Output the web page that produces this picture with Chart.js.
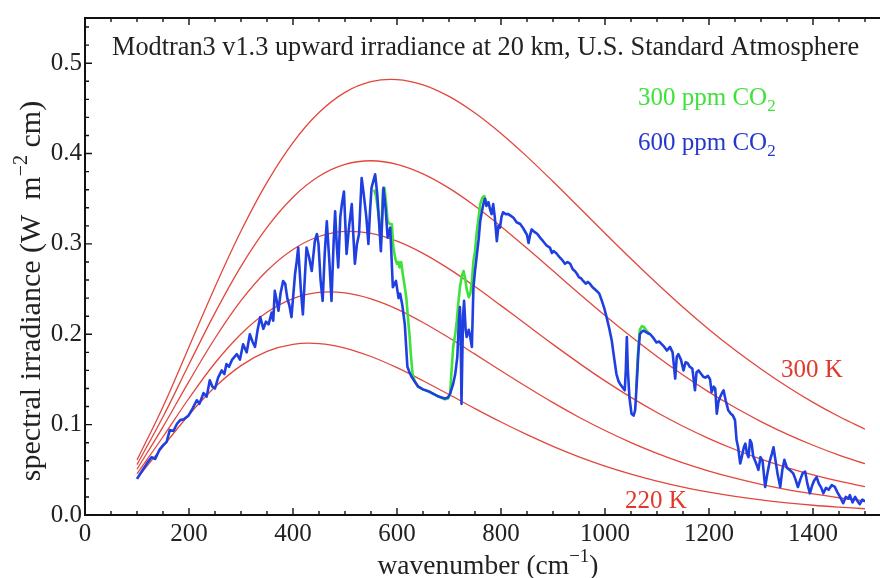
<!DOCTYPE html>
<html>
<head>
<meta charset="utf-8">
<script src="https://cdn.jsdelivr.net/npm/chart.js@4.4.1/dist/chart.umd.min.js"></script>
<style>
  html, body { margin: 0; padding: 0; background: #fff; }
  canvas { display: block; }
</style>
</head>
<body>
<canvas id="irr" width="880" height="578"></canvas>
<script>
// blackbody reference curves, W m^-2 cm
const planckWn = [100, 150, 200, 250, 300, 350, 400, 450, 500, 550, 600, 650, 700, 750, 800,
  850, 900, 950, 1000, 1050, 1100, 1150, 1200, 1250, 1300, 1350, 1400, 1450, 1500];
const bb300 = [0.0608, 0.1199, 0.1860, 0.2523, 0.3142, 0.3681, 0.4122, 0.4454, 0.4677, 0.4795, 0.4819, 0.4760, 0.4632, 0.4448, 0.4222,
  0.3966, 0.3690, 0.3405, 0.3118, 0.2835, 0.2561, 0.2299, 0.2054, 0.1825, 0.1615, 0.1422, 0.1247, 0.1090, 0.0950];
const bb280 = [0.0557, 0.1087, 0.1668, 0.2237, 0.2752, 0.3183, 0.3517, 0.3748, 0.3880, 0.3920, 0.3881, 0.3775, 0.3617, 0.3419, 0.3193,
  0.2951, 0.2702, 0.2452, 0.2208, 0.1975, 0.1754, 0.1549, 0.1360, 0.1189, 0.1034, 0.0895, 0.0772, 0.0663, 0.0568];
const bb260 = [0.0506, 0.0976, 0.1479, 0.1956, 0.2372, 0.2703, 0.2939, 0.3082, 0.3138, 0.3116, 0.3031, 0.2896, 0.2724, 0.2528, 0.2317,
  0.2102, 0.1888, 0.1681, 0.1484, 0.1302, 0.1134, 0.0982, 0.0846, 0.0725, 0.0618, 0.0525, 0.0444, 0.0374, 0.0314];
const bb240 = [0.0456, 0.0866, 0.1292, 0.1682, 0.2004, 0.2243, 0.2395, 0.2463, 0.2457, 0.2391, 0.2278, 0.2130, 0.1961, 0.1780, 0.1596,
  0.1416, 0.1243, 0.1082, 0.0935, 0.0801, 0.0682, 0.0577, 0.0486, 0.0407, 0.0339, 0.0281, 0.0233, 0.0191, 0.0157];
const bb220 = [0.0405, 0.0758, 0.1109, 0.1416, 0.1653, 0.1810, 0.1889, 0.1897, 0.1848, 0.1754, 0.1630, 0.1486, 0.1333, 0.1178, 0.1029,
  0.0889, 0.0760, 0.0644, 0.0541, 0.0452, 0.0374, 0.0308, 0.0253, 0.0206, 0.0167, 0.0135, 0.0108, 0.0087, 0.0069];

// 600 ppm CO2 spectrum
const wn600 = [100, 110, 120, 128, 135, 143, 150, 157, 163, 170, 177, 183, 190, 199, 207, 215, 220, 228, 234, 240,
  245, 250, 256, 263, 268, 272, 277, 283, 292, 298, 304, 311, 317, 322, 327, 332, 337, 343, 348, 353,
  359, 362, 365, 369, 372, 376, 381, 385, 389, 393, 397, 404, 407, 410, 415, 419, 423, 426, 431, 436,
  442, 446, 449, 453, 457, 461, 465, 470, 474, 478, 481, 484, 487, 491, 494, 498, 503, 508, 513, 516,
  519, 523, 527, 532, 536, 541, 545, 548, 551, 558, 562, 566, 569, 574, 578, 582, 587, 592, 598, 603,
  606, 610, 615, 620, 624, 628, 635, 641, 650, 660, 670, 680, 692, 698, 702, 708, 712, 716, 719, 721,
  722.5, 724, 727, 729, 732, 734, 738, 740, 744, 747, 750, 753, 757, 760, 763, 766, 769, 772, 776, 779,
  782, 785, 788, 792, 795, 798, 801, 804, 809, 814, 819, 824, 830, 837, 842, 846, 850, 853, 856, 859,
  865, 870, 875, 881, 888, 894, 898, 901, 906, 913, 918, 923, 928, 933, 938, 942, 946, 950, 954, 958,
  963, 967, 971, 976, 980, 984, 989, 994, 999, 1003, 1008, 1013, 1018, 1022, 1026, 1029, 1034, 1038, 1040, 1042,
  1044, 1047, 1051, 1055, 1058, 1061, 1064, 1067, 1071, 1074, 1080, 1087, 1093, 1099, 1104, 1109, 1114, 1119, 1125, 1130,
  1135, 1138, 1141, 1146, 1151, 1155, 1159, 1163, 1168, 1173, 1176, 1180, 1185, 1189, 1193, 1198, 1202, 1205, 1209, 1212,
  1215, 1218, 1221, 1225, 1228, 1232, 1237, 1242, 1246, 1250, 1253, 1256, 1260, 1263, 1267, 1270, 1273, 1276, 1279, 1282,
  1285, 1288, 1292, 1295, 1299, 1303, 1308, 1312, 1317, 1321, 1324, 1328, 1332, 1337, 1341, 1345, 1350, 1355, 1362, 1366,
  1371, 1376, 1380, 1385, 1389, 1394, 1398, 1402, 1407, 1411, 1416, 1420, 1425, 1430, 1436, 1442, 1447, 1452, 1458, 1463,
  1468, 1471, 1476, 1481, 1486, 1490, 1495, 1500];
const irr600 = [0.040, 0.049, 0.058, 0.064, 0.062, 0.072, 0.077, 0.081, 0.094, 0.093, 0.101, 0.105, 0.106, 0.110, 0.118, 0.127, 0.123, 0.135, 0.131, 0.149,
  0.142, 0.140, 0.152, 0.160, 0.156, 0.167, 0.164, 0.172, 0.178, 0.172, 0.189, 0.180, 0.200, 0.192, 0.186, 0.205, 0.219, 0.206, 0.214, 0.211,
  0.224, 0.215, 0.248, 0.236, 0.226, 0.245, 0.259, 0.256, 0.240, 0.232, 0.219, 0.267, 0.280, 0.296, 0.250, 0.222, 0.265, 0.296, 0.285, 0.270,
  0.303, 0.311, 0.300, 0.260, 0.237, 0.289, 0.325, 0.280, 0.237, 0.300, 0.336, 0.300, 0.274, 0.330, 0.344, 0.358, 0.289, 0.320, 0.344, 0.310,
  0.278, 0.300, 0.311, 0.373, 0.355, 0.330, 0.300, 0.335, 0.362, 0.377, 0.355, 0.320, 0.292, 0.362, 0.340, 0.307, 0.318, 0.252, 0.259, 0.240,
  0.245, 0.233, 0.211, 0.164, 0.158, 0.153, 0.147, 0.142, 0.139, 0.137, 0.134, 0.131, 0.129, 0.130, 0.134, 0.145, 0.156, 0.175, 0.215, 0.230,
  0.200, 0.123, 0.220, 0.237, 0.205, 0.197, 0.205, 0.200, 0.186, 0.252, 0.270, 0.285, 0.305, 0.325, 0.335, 0.344, 0.350, 0.342, 0.346, 0.338,
  0.333, 0.344, 0.330, 0.303, 0.320, 0.318, 0.330, 0.335, 0.333, 0.333, 0.331, 0.329, 0.324, 0.322, 0.318, 0.314, 0.310, 0.301, 0.310, 0.316,
  0.313, 0.311, 0.307, 0.303, 0.298, 0.296, 0.290, 0.292, 0.290, 0.285, 0.282, 0.278, 0.280, 0.278, 0.272, 0.270, 0.267, 0.263, 0.262, 0.259,
  0.256, 0.258, 0.256, 0.252, 0.250, 0.248, 0.245, 0.237, 0.228, 0.219, 0.207, 0.193, 0.172, 0.156, 0.148, 0.145, 0.141, 0.138, 0.160, 0.197,
  0.160, 0.130, 0.112, 0.110, 0.116, 0.145, 0.178, 0.200, 0.203, 0.204, 0.202, 0.200, 0.196, 0.191, 0.192, 0.189, 0.186, 0.182, 0.186, 0.180,
  0.151, 0.175, 0.178, 0.172, 0.160, 0.169, 0.168, 0.164, 0.162, 0.138, 0.158, 0.160, 0.156, 0.153, 0.152, 0.154, 0.150, 0.136, 0.142, 0.140,
  0.112, 0.125, 0.130, 0.135, 0.138, 0.127, 0.116, 0.112, 0.110, 0.105, 0.083, 0.075, 0.057, 0.064, 0.075, 0.079, 0.068, 0.064, 0.083, 0.079,
  0.065, 0.061, 0.055, 0.050, 0.064, 0.060, 0.031, 0.045, 0.060, 0.068, 0.075, 0.060, 0.045, 0.031, 0.050, 0.061, 0.052, 0.050, 0.046, 0.040,
  0.031, 0.040, 0.046, 0.048, 0.035, 0.024, 0.032, 0.038, 0.042, 0.035, 0.030, 0.024, 0.030, 0.028, 0.033, 0.031, 0.025, 0.020, 0.013, 0.020,
  0.018, 0.022, 0.014, 0.020, 0.015, 0.012, 0.017, 0.015];

// 300 ppm CO2 spectrum, only where it departs from the 600 ppm one
const wn300 = [556, 560, 565, 569, 573, 576, 579, 582, 586, 590, 593, 597, 600, 603, 605, 608, 611, 615, 618, 620,
  622, 624, 627, 630, 634, 640, 650, 660, 670, 680, 692, 698, 702, 705, 708, 712, 715, 718, 721, 725,
  728, 731, 734, 738, 741, 744, 747, 750, 753, 757, 760, 764, 768, 772, 776];
const irr300 = [0.360, 0.352, 0.330, 0.300, 0.360, 0.362, 0.345, 0.325, 0.322, 0.322, 0.296, 0.283, 0.278, 0.280, 0.274, 0.280, 0.267, 0.252, 0.240, 0.226,
  0.212, 0.200, 0.175, 0.156, 0.148, 0.142, 0.139, 0.137, 0.134, 0.131, 0.128, 0.129, 0.134, 0.160, 0.186, 0.200, 0.215, 0.235, 0.252, 0.265,
  0.270, 0.262, 0.250, 0.241, 0.245, 0.259, 0.281, 0.292, 0.311, 0.330, 0.344, 0.351, 0.353, 0.345, 0.347];
const wn300b = [1060, 1064, 1067, 1071, 1075, 1080, 1085];
const irr300b = [0.140, 0.185, 0.205, 0.209, 0.208, 0.204, 0.200];

const RED = '#e2473d';
const GREEN = '#3ee23a';
const BLUE = '#1f3fe0';
const SERIF = '"Liberation Serif", "DejaVu Serif", serif';

const pts = (xs, ys) => xs.map((x, i) => ({ x: x, y: ys[i] }));

const bbSet = (ys) => ({
  data: pts(planckWn, ys),
  borderColor: RED,
  borderWidth: 1.3,
  pointRadius: 0,
  tension: 0.35,
  fill: false,
});

const specSet = (xs, ys, color) => ({
  data: pts(xs, ys),
  borderColor: color,
  borderWidth: 2.6,
  pointRadius: 0,
  tension: 0,
  borderJoinStyle: 'round',
  fill: false,
});

// draws text with sub/superscripts; parts = [[text, shift]] where shift -1 = sub, 1 = sup
function richText(ctx, parts, x, y, size, align) {
  const fontFor = (s) => (s ? Math.round(size * 0.68) : size) + 'px ' + SERIF;
  let total = 0;
  parts.forEach(([t, s]) => { ctx.font = fontFor(s); total += ctx.measureText(t).width; });
  let cx = align === 'center' ? x - total / 2 : x;
  parts.forEach(([t, s]) => {
    ctx.font = fontFor(s);
    const dy = s === 1 ? -size * 0.42 : s === -1 ? size * 0.22 : 0;
    ctx.fillText(t, cx, y + dy);
    cx += ctx.measureText(t).width;
  });
}

const framePlugin = {
  id: 'frame',
  afterDatasetsDraw(chart) {
    const { ctx, chartArea: a, scales: { x, y } } = chart;
    ctx.save();
    ctx.strokeStyle = '#111';
    ctx.lineWidth = 2;
    ctx.beginPath();
    ctx.moveTo(a.left, a.top - 1);
    ctx.lineTo(a.left, a.bottom + 1);
    ctx.moveTo(a.left - 1, a.bottom);
    ctx.lineTo(chart.width, a.bottom);
    ctx.moveTo(a.left - 1, a.top);
    ctx.lineTo(chart.width, a.top);
    ctx.stroke();

    ctx.lineWidth = 1.4;
    ctx.beginPath();
    for (let v = 0; v <= 1500; v += 50) {
      const px = x.getPixelForValue(v);
      const len = v % 200 === 0 ? 7 : 4;
      ctx.moveTo(px, a.bottom);
      ctx.lineTo(px, a.bottom - len);
      ctx.moveTo(px, a.top);
      ctx.lineTo(px, a.top + len);
    }
    for (let i = 0; i <= 27; i++) {
      const py = y.getPixelForValue(i * 0.02);
      const len = i % 5 === 0 ? 7 : 4;
      ctx.moveTo(a.left, py);
      ctx.lineTo(a.left + len, py);
    }
    ctx.stroke();
    ctx.restore();
  },
  afterDraw(chart) {
    const { ctx } = chart;
    ctx.save();
    ctx.textBaseline = 'alphabetic';
    ctx.textAlign = 'left';

    ctx.fillStyle = '#222';
    richText(ctx, [['Modtran3 v1.3 upward irradiance at 20 km, U.S. Standard Atmosphere', 0]], 112, 55, 26.3, 'left');

    ctx.fillStyle = GREEN;
    richText(ctx, [['300 ppm CO', 0], ['2', -1]], 638, 105, 25, 'left');
    ctx.fillStyle = '#2438cc';
    richText(ctx, [['600 ppm CO', 0], ['2', -1]], 638, 150, 25, 'left');

    ctx.fillStyle = '#e0392c';
    richText(ctx, [['300 K', 0]], 781, 377, 25, 'left');
    richText(ctx, [['220 K', 0]], 625, 508, 25, 'left');

    ctx.fillStyle = '#222';
    richText(ctx, [['wavenumber (cm', 0], ['\u22121', 1], [')', 0]], 488, 574, 27.5, 'center');

    ctx.translate(40, 291);
    ctx.rotate(-Math.PI / 2);
    richText(ctx, [['spectral irradiance (W  m', 0], ['\u22122', 1], [' cm)', 0]], 0, 0, 30, 'center');
    ctx.restore();
  },
};

new Chart(document.getElementById('irr'), {
  type: 'line',
  data: {
    // first dataset is painted last, so the 600 ppm trace sits on top
    datasets: [
      specSet(wn600, irr600, BLUE),
      specSet(wn300, irr300, GREEN),
      specSet(wn300b, irr300b, GREEN),
      bbSet(bb300), bbSet(bb280), bbSet(bb260), bbSet(bb240), bbSet(bb220),
    ],
  },
  options: {
    responsive: false,
    animation: false,
    events: [],
    layout: { padding: { left: 0, top: 17, right: 15, bottom: 0 } },
    plugins: { legend: { display: false }, tooltip: { enabled: false }, title: { display: false } },
    scales: {
      x: {
        type: 'linear',
        min: 0,
        max: 1500,
        grid: { display: false, drawTicks: false },
        border: { display: false },
        ticks: {
          stepSize: 200,
          includeBounds: false,
          padding: 4,
          color: '#222',
          font: { family: SERIF, size: 25 },
          maxRotation: 0,
          callback: (v) => String(v),
        },
        afterFit: (s) => { s.height = 63; },
      },
      y: {
        type: 'linear',
        min: 0,
        max: 0.55,
        grid: { display: false, drawTicks: false },
        border: { display: false },
        ticks: {
          stepSize: 0.1,
          includeBounds: false,
          padding: 3,
          color: '#222',
          font: { family: SERIF, size: 25 },
          callback: (v) => v.toFixed(1),
        },
        afterFit: (s) => { s.width = 85; },
      },
    },
  },
  plugins: [framePlugin],
});
</script>
</body>
</html>
